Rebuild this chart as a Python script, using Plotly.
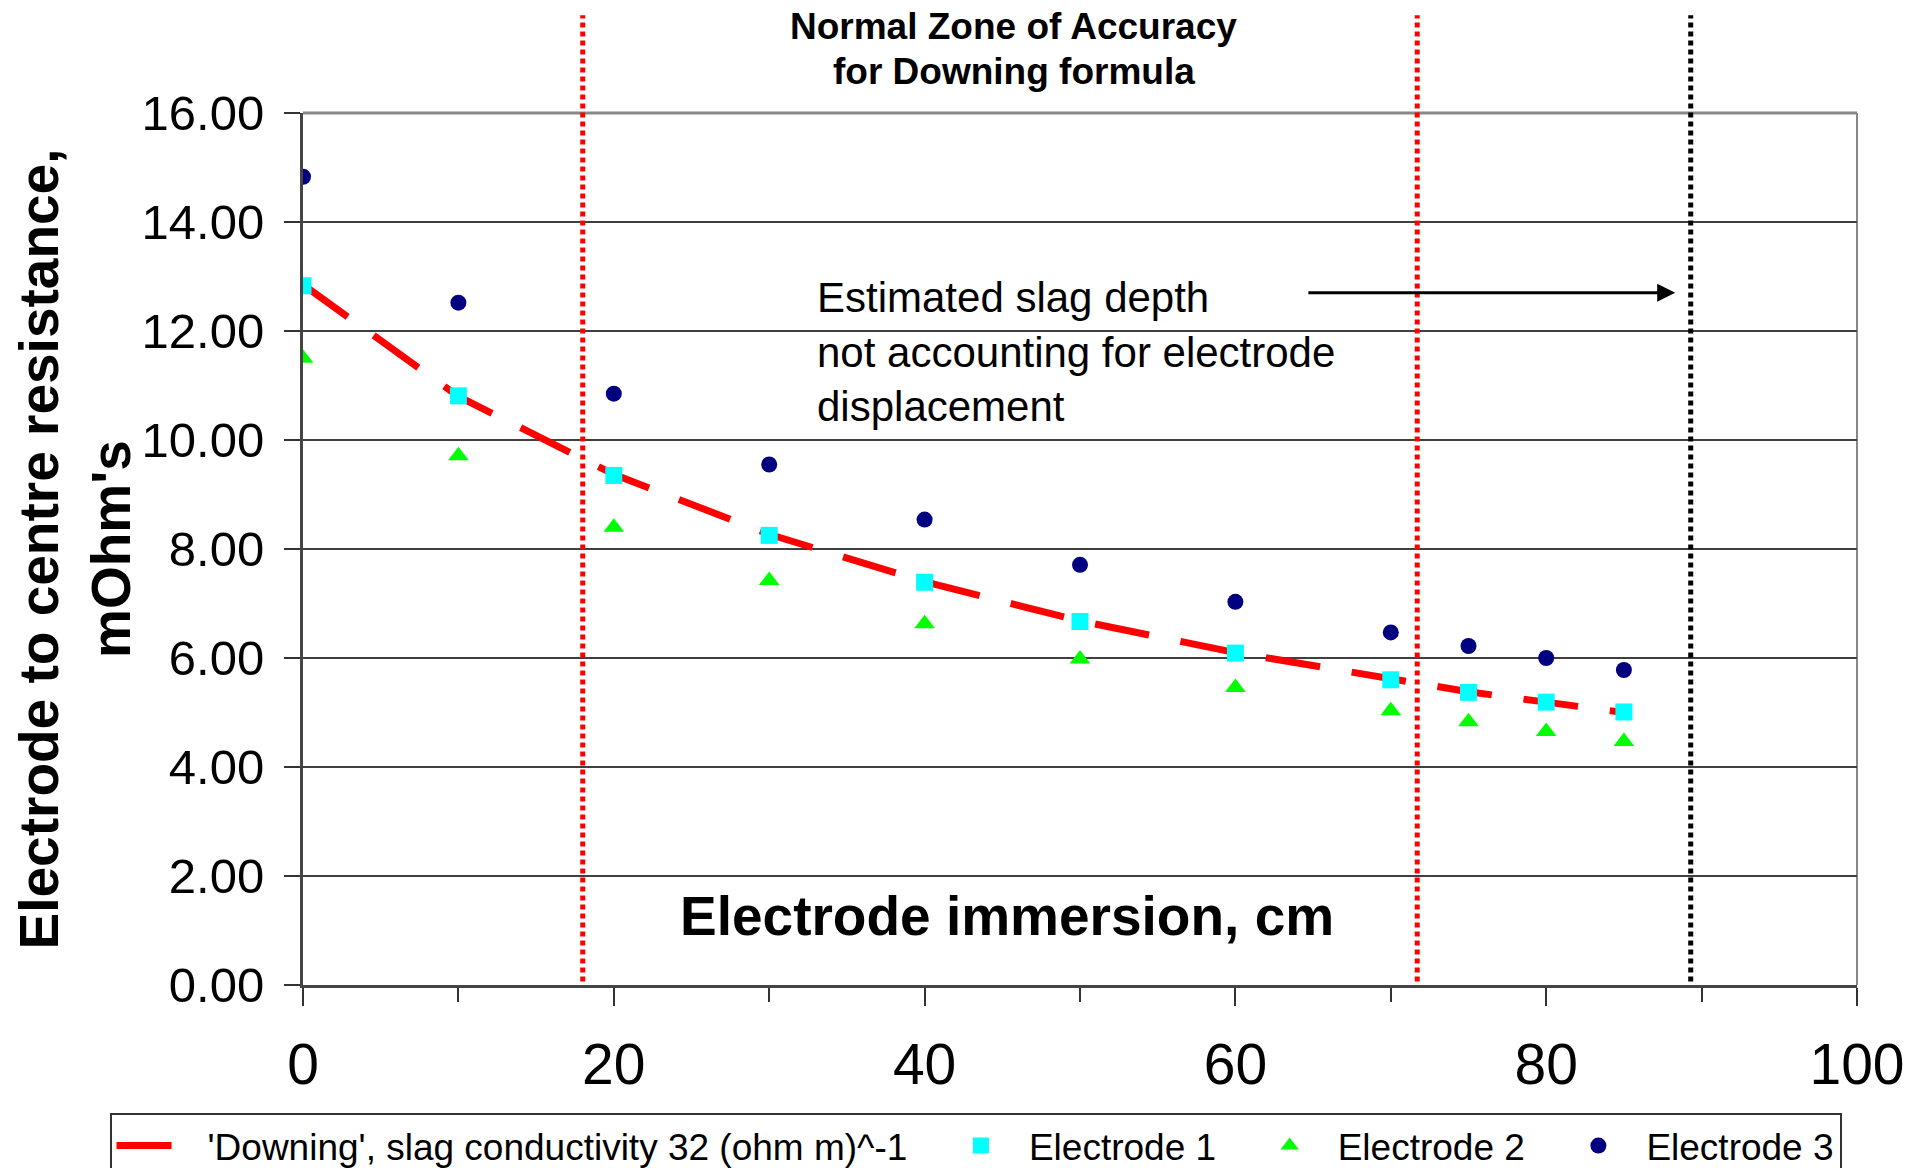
import plotly.graph_objects as go

# Data
immersion = [0, 10, 20, 30, 40, 50, 60, 70, 75, 80, 85]
downing = [12.85, 10.80, 9.37, 8.27, 7.40, 6.68, 6.10, 5.60, 5.38, 5.19, 5.00]
electrode1 = [12.83, 10.81, 9.35, 8.25, 7.39, 6.67, 6.09, 5.60, 5.37, 5.19, 5.01]
electrode2 = [11.50, 9.71, 8.40, 7.42, 6.63, 5.98, 5.46, 5.03, 4.83, 4.65, 4.47]
electrode3 = [14.83, 12.52, 10.85, 9.55, 8.54, 7.71, 7.03, 6.47, 6.22, 6.00, 5.78]

zone_lines = [18, 71.7]
slag_depth = 89.3
arrow_start = 64.6
arrow_y = 12.7

y_ticks = [0, 2, 4, 6, 8, 10, 12, 14, 16]
x_ticks = [0, 20, 40, 60, 80, 100]

FONT = "Liberation Sans, Arial, sans-serif"
PAD = "\u00a0\u00a0"

fig = go.Figure()
fig.add_trace(go.Scatter(
    x=immersion, y=downing, mode="lines",
    name="'Downing', slag conductivity 32 (ohm m)^-1" + PAD,
    line=dict(color="#FF0000", width=7, dash="55px,32px"),
))
fig.add_trace(go.Scatter(
    x=immersion, y=electrode1, mode="markers", name="Electrode 1" + PAD,
    marker=dict(symbol="square", color="#00FFFF", size=17),
))
fig.add_trace(go.Scatter(
    x=immersion, y=electrode2, mode="markers", name="Electrode 2" + PAD,
    marker=dict(symbol="triangle-up", color="#00FF00", size=18),
))
fig.add_trace(go.Scatter(
    x=immersion, y=electrode3, mode="markers", name="Electrode 3",
    marker=dict(symbol="circle", color="#000080", size=16),
))

# vertical dotted reference lines
for xv, col in [(zone_lines[0], "#FF0000"), (zone_lines[1], "#FF0000"), (slag_depth, "#000000")]:
    fig.add_shape(type="line", xref="x", yref="paper", x0=xv, x1=xv, y0=0.004, y1=1.112,
                  line=dict(color=col, width=5, dash="5px,4px"), layer="above")

# top and right border
fig.add_shape(type="line", xref="paper", yref="paper", x0=0, x1=1, y0=1, y1=1,
              line=dict(color="#888888", width=3), layer="below")
fig.add_shape(type="line", xref="paper", yref="paper", x0=1, x1=1, y0=0, y1=1,
              line=dict(color="#888888", width=2), layer="below")

fig.add_annotation(x=slag_depth - 1.0, y=arrow_y, ax=arrow_start, ay=arrow_y,
                   xref="x", yref="y", axref="x", ayref="y", text="",
                   showarrow=True, arrowhead=2, arrowsize=1.2, arrowwidth=3, arrowcolor="#000000")

fig.add_annotation(x=32.95, y=11.62, xref="x", yref="y", xanchor="left", yanchor="middle",
                   align="left",
                   text="Estimated slag depth<br>not accounting for electrode<br>displacement",
                   showarrow=False, font=dict(family=FONT, size=42, color="#000000"))

fig.add_annotation(x=45.75, y=1.0995, xref="x", yref="paper", xanchor="center", yanchor="middle",
                   text="<b>Normal Zone of Accuracy</b>", borderpad=0,
                   showarrow=False, font=dict(family=FONT, size=37, color="#000000"))
fig.add_annotation(x=45.75, y=1.0477, xref="x", yref="paper", xanchor="center", yanchor="middle",
                   text="<b>for Downing formula</b>", borderpad=0,
                   showarrow=False, font=dict(family=FONT, size=37, color="#000000"))

fig.add_annotation(x=45.3, y=1.27, xref="x", yref="y", xanchor="center", yanchor="middle",
                   text="<b>Electrode immersion, cm</b>",
                   showarrow=False, font=dict(family=FONT, size=55, color="#000000"))

fig.update_layout(
    width=1921, height=1168,
    margin=dict(l=295, r=72, t=105, b=191, autoexpand=False),
    paper_bgcolor="white", plot_bgcolor="white",
    font=dict(family=FONT, color="#000000"),
    showlegend=True,
    legend=dict(orientation="h", x=-0.1245, y=-0.1468, xanchor="left", yanchor="top",
                bordercolor="#333333", borderwidth=2, font=dict(size=37),
                bgcolor="white", itemwidth=86),
    xaxis=dict(range=[0, 100], tickvals=x_ticks, ticks="outside", ticklen=18, tickwidth=1.5,
               tickcolor="#333333", showgrid=False, zeroline=False, automargin=False,
               showline=True, linecolor="#444444", linewidth=3,
               tickfont=dict(size=57), ticklabelstandoff=10,
               minor=dict(dtick=10, ticks="outside", ticklen=14, tickcolor="#333333", tickwidth=1.5)),
    yaxis=dict(range=[0, 16], tickvals=y_ticks, ticktext=[f"{v:.2f}" for v in y_ticks],
               ticks="outside", ticklen=16, tickwidth=1.5, tickcolor="#333333",
               showgrid=True, gridcolor="#404040", gridwidth=1.5, zeroline=False, automargin=False,
               showline=True, linecolor="#444444", linewidth=3,
               tickfont=dict(size=49), ticklabelstandoff=10,
               title=dict(text="<b>Electrode to centre resistance,<br>mOhm's</b>",
                          font=dict(size=55), standoff=12)),
)

fig.write_html("out.html")
